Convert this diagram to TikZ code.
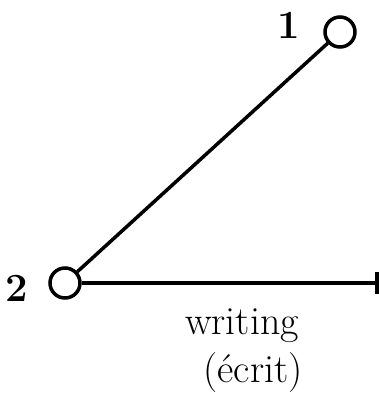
\documentclass[tikz,border=0pt]{standalone}
\usepackage{fontspec}
\usepackage{tikz}
\usetikzlibrary{positioning}
\tikzset{
  vertex/.style={draw, circle, line width=3.5pt, minimum size=30pt, inner sep=0pt},
  digit/.style={font=\bfseries\fontsize{40}{40}\selectfont, inner sep=0pt},
  hand/.style={font=\fontsize{40}{42}\selectfont, inner sep=0pt}
}
\begin{document}
\begin{tikzpicture}[x=1pt, y=-1pt, line width=3.5pt]
  \useasboundingbox (0,0) rectangle (379,400);
  % Vertices
  \node[vertex] (n1) at (340,32) {};
  \node[vertex] (n2) at (65,283) {};
  \coordinate (end) at (377,283);
  % Labels
  \node[digit, left=21pt of n1, yshift=7pt] (l1) {1};
  \node[digit, left=18pt of n2, yshift=-5pt] (l2) {2};
  % Edges
  \draw (n2) -- (n1);
  \draw (n2) -- (end);
  \draw ([yshift=-11]end) -- ([yshift=11]end);
  % Edge label
  \node[hand] (w) at (242,326) {writing};
  \node[hand] (e) at (253,373) {(écrit)};
\end{tikzpicture}
\end{document}
